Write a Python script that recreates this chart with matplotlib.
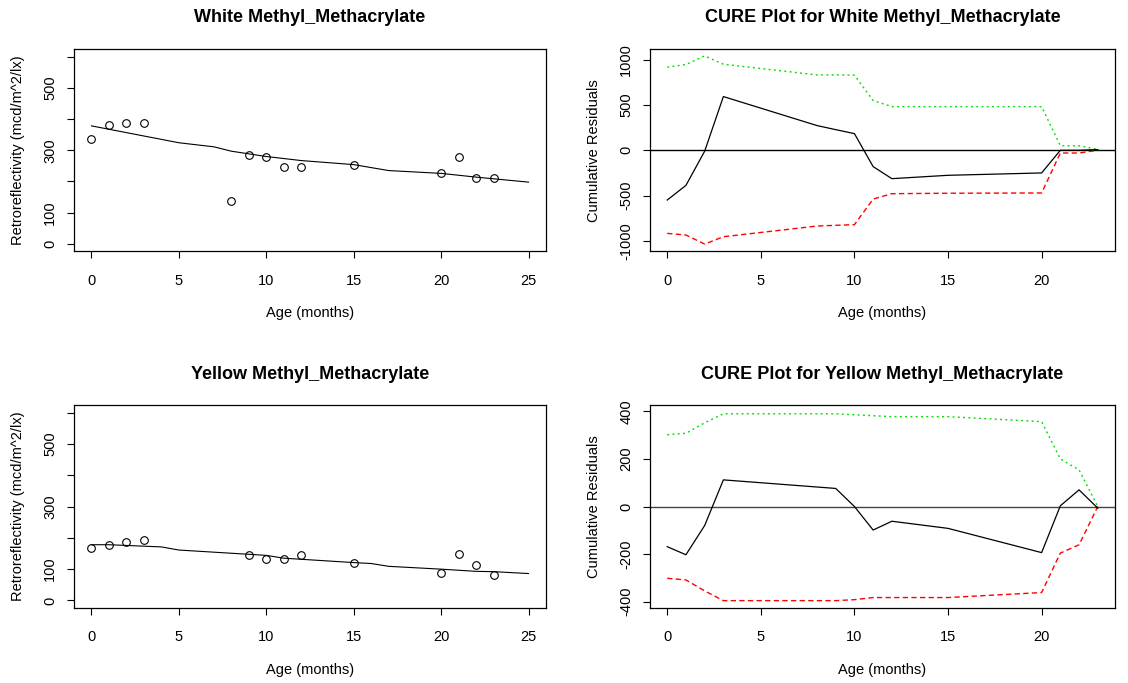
import matplotlib
matplotlib.use("Agg")
import matplotlib.pyplot as plt

plt.rcParams['font.family'] = ['Liberation Sans', 'DejaVu Sans']
plt.rcParams['lines.scale_dashes'] = False

# ---------------- data ----------------
white_age = [0, 1, 2, 3, 8, 9, 10, 11, 12, 15, 20, 21, 22, 23]
white_retro = [336, 380, 386, 386, 139, 286, 279, 247, 247, 254, 226, 279, 211, 211]
white_fit_age = [0, 5, 7, 8, 10, 12, 15, 17, 20, 22, 25]
white_fit = [378, 324, 311, 297, 280, 267, 254, 235, 226, 214, 198]

yellow_age = [0, 1, 2, 3, 9, 10, 11, 12, 15, 20, 21, 22, 23]
yellow_retro = [166, 177, 188, 192, 145, 134, 131, 145, 120, 88, 149, 113, 81]
yellow_fit_age = [0, 1, 4, 5, 10, 11, 15, 16, 17, 20, 22, 23, 25]
yellow_fit = [178, 178, 171, 161, 144, 135, 121, 118, 109, 100, 93, 92, 86]

white_cure = [-549, -387, -10, 593, 273, 228, 184, -180, -313, -276, -250, 0, 0, 8]
white_upper = [917, 947, 1042, 950, 832, 832, 829, 549, 482, 482, 482, 50, 50, 10]
white_lower = [-917, -935, -1035, -954, -836, -828, -821, -538, -479, -474, -471, -30, -30, 0]

yellow_cure = [-169, -203, -80, 112, 76, 0, -99, -62, -92, -194, 3, 70, -7]
yellow_upper = [302, 308, 352, 390, 390, 386, 382, 378, 378, 357, 200, 154, 0]
yellow_lower = [-302, -309, -355, -396, -396, -392, -383, -383, -383, -362, -196, -161, 0]

retro_ticks = [0, 100, 200, 300, 400, 500, 600]
retro_labels = ['0', '100', '', '300', '', '500', '']
age_ticks_left = [0, 5, 10, 15, 20, 25]
age_ticks_cure = [0, 5, 10, 15, 20]
white_cure_ticks = [-1000, -500, 0, 500, 1000]
yellow_cure_ticks = [-400, -200, 0, 200, 400]

W, H = 1128, 683
fig = plt.figure(figsize=(W / 100, H / 100), dpi=100)

FS = 10.5
TFS = 13


def make_ax(l, t, r, b, title, xlabel, ylabel, ylab_x, xlab_y, title_y):
    ax = fig.add_axes([l / W, 1 - b / H, (r - l) / W, (b - t) / H])
    w, h = r - l, b - t
    ax.set_title(title, fontsize=TFS, fontweight='bold', va='center',
                 y=1 + (t - title_y) / h, pad=0)
    ax.set_xlabel(xlabel, fontsize=FS, va='center')
    ax.xaxis.set_label_coords(0.5, (b - xlab_y) / h)
    ax.set_ylabel(ylabel, fontsize=FS, va='center')
    ax.yaxis.set_label_coords((ylab_x - l) / w, 0.5)
    ax.tick_params(direction='out', length=5, width=0.8, labelsize=FS)
    ax.tick_params(axis='x', pad=11)
    ax.tick_params(axis='y', pad=7)
    for s in ax.spines.values():
        s.set_linewidth(0.9)
    return ax


def fix_ylabels(ax):
    for lab in ax.get_yticklabels():
        lab.set_va('center')
        lab.set_rotation(90)


# Top-left: White
ax1 = make_ax(74, 49, 546, 251.5, 'White Methyl_Methacrylate', 'Age (months)',
              'Retroreflectivity (mcd/m^2/lx)', 18, 313, 18)
ax1.plot(white_age, white_retro, 'o', mfc='none', mec='black', ms=5.5, mew=0.8)
ax1.plot(white_fit_age, white_fit, '-', color='black', lw=0.8)
ax1.set_xlim(-1, 26)
ax1.set_ylim(-24, 624)
ax1.set_xticks(age_ticks_left)
ax1.set_yticks(retro_ticks)
ax1.set_yticklabels(retro_labels)
fix_ylabels(ax1)

# Bottom-left: Yellow
ax3 = make_ax(74, 405, 546, 608, 'Yellow Methyl_Methacrylate', 'Age (months)',
              'Retroreflectivity (mcd/m^2/lx)', 18, 670, 374)
ax3.plot(yellow_age, yellow_retro, 'o', mfc='none', mec='black', ms=5.5, mew=0.8)
ax3.plot(yellow_fit_age, yellow_fit, '-', color='black', lw=0.8)
ax3.set_xlim(-1, 26)
ax3.set_ylim(-24, 624)
ax3.set_xticks(age_ticks_left)
ax3.set_yticks(retro_ticks)
ax3.set_yticklabels(retro_labels)
fix_ylabels(ax3)

GREEN = '#00dd00'
RED = '#ff0000'


def cure(ax, x, res, up, lo, zero_color):
    ax.axhline(0, color=zero_color, lw=1.0)
    ax.plot(x, up, color=GREEN, lw=1.0, dashes=(1.4, 2.4))
    ax.plot(x, lo, color=RED, lw=1.0, dashes=(3.8, 2.4))
    ax.plot(x, res, color='black', lw=0.9)
    ax.set_xlim(-0.92, 23.92)
    ax.set_xticks(age_ticks_cure)


# Top-right: CURE White
ax2 = make_ax(650, 49, 1115, 251.5, 'CURE Plot for White Methyl_Methacrylate', 'Age (months)',
              'Cumulative Residuals', 594, 313, 18)
cure(ax2, white_age, white_cure, white_upper, white_lower, 'black')
ax2.set_ylim(-1117, 1118)
ax2.set_yticks(white_cure_ticks)
ax2.set_yticklabels([str(v) for v in white_cure_ticks])
fix_ylabels(ax2)

# Bottom-right: CURE Yellow
ax4 = make_ax(650, 405, 1115, 608, 'CURE Plot for Yellow Methyl_Methacrylate', 'Age (months)',
              'Cumulative Residuals', 594, 670, 374)
cure(ax4, yellow_age, yellow_cure, yellow_upper, yellow_lower, '#444444')
ax4.set_ylim(-427, 427)
ax4.set_yticks(yellow_cure_ticks)
ax4.set_yticklabels([str(v) for v in yellow_cure_ticks])
fix_ylabels(ax4)

fig.savefig('out.png', dpi=100)
